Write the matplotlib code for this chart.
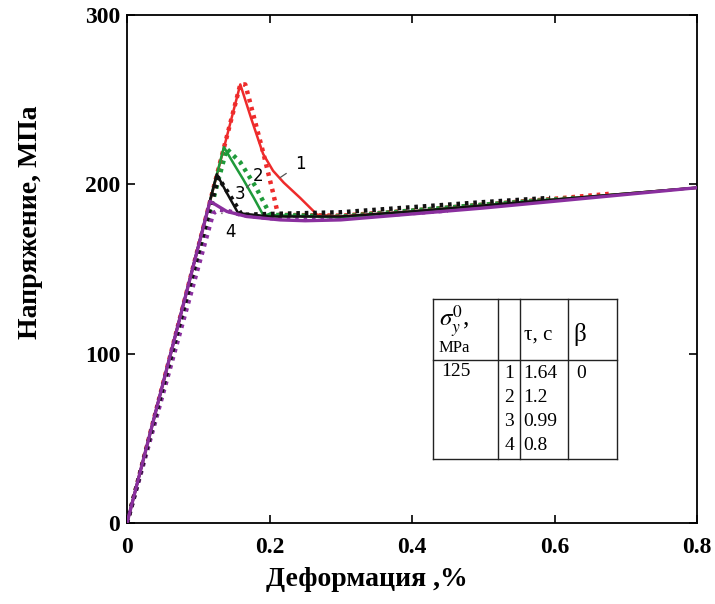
import numpy as np
import matplotlib.pyplot as plt
from matplotlib.lines import Line2D

plt.rcParams['font.family'] = ['Liberation Serif', 'DejaVu Serif']
plt.rcParams['mathtext.fontset'] = 'stix'

# strain (%) and stress (MPa)
red_x = [0, 0.159, 0.175, 0.191, 0.205, 0.22, 0.243, 0.267, 0.3, 0.4, 0.5, 0.6, 0.7, 0.8]
red_y = [0, 259, 238, 218, 208, 201, 192, 182, 181, 184, 187.5, 191, 194.5, 198]
red_dot_x = [0, 0.159, 0.166, 0.173, 0.191, 0.205, 0.212, 0.3, 0.4, 0.5, 0.6, 0.68]
red_dot_y = [0, 259, 259, 248, 219, 195, 182, 181.5, 184.5, 188, 191.5, 194.5]

green_x = [0, 0.136, 0.15, 0.163, 0.178, 0.191, 0.3, 0.4, 0.5, 0.6, 0.7, 0.8]
green_y = [0, 222, 212, 203, 192, 182, 180.5, 184, 187.5, 191, 194.5, 198]
green_dot_x = [0, 0.140, 0.159, 0.180, 0.201, 0.3, 0.4, 0.5, 0.63]
green_dot_y = [0, 221, 213, 199, 182, 181, 184.5, 188, 192]

black_x = [0, 0.126, 0.140, 0.156, 0.2, 0.3, 0.4, 0.5, 0.6, 0.7, 0.8]
black_y = [0, 206, 195, 183, 181, 181, 184, 187.5, 191, 194.5, 198]
black_dot_x = [0, 0.128, 0.145, 0.161, 0.2, 0.3, 0.4, 0.5, 0.594]
black_dot_y = [0, 204, 193, 182, 182.5, 183.5, 186.5, 189.5, 192]

purple_x = [0, 0.1165, 0.14, 0.168, 0.215, 0.25, 0.3, 0.4, 0.5, 0.6, 0.7, 0.8]
purple_y = [0, 190, 184, 181, 179, 178.5, 179, 182.5, 186, 190, 194, 198]
purple_dot_x = [0, 0.121, 0.13, 0.14, 0.16, 0.2, 0.25, 0.3, 0.45]
purple_dot_y = [0, 183, 185, 184.5, 182, 180, 179.5, 180, 184.5]

curve_labels = ['1', '2', '3', '4']
label_xy = [(0.243, 212), (0.184, 205), (0.159, 194), (0.145, 172)]
arrow_xy = [(0.215, 204), (0.168, 198), (0.152, 187), (0.133, 183)]

tau_values = ['1.64', '1.2', '0.99', '0.8']
sigma0 = '125'
beta = '0'

RED = '#ee2b2b'
GREEN = '#1f9a3a'
BLACK = '#111111'
PURPLE = '#8a2f9e'

W, H = 715, 604
fig = plt.figure(figsize=(W / 100, H / 100), dpi=100)
ax = fig.add_axes([127 / W, 1 - 523 / H, 570 / W, 508 / H])


def fx(px, py):
    return (px / W, 1 - py / H)


dot = (0, (0.8, 1.1))
ax.plot(red_dot_x, red_dot_y, color=RED, lw=3.2, linestyle=dot, zorder=2)
ax.plot(red_x, red_y, color=RED, lw=1.8, zorder=3)
ax.plot(green_dot_x, green_dot_y, color=GREEN, lw=3.2, linestyle=dot, zorder=2)
ax.plot(green_x, green_y, color=GREEN, lw=1.8, zorder=3)
ax.plot(black_dot_x, black_dot_y, color=BLACK, lw=3.2, linestyle=dot, zorder=4)
ax.plot(black_x, black_y, color=BLACK, lw=1.8, zorder=3)
ax.plot(purple_dot_x, purple_dot_y, color=PURPLE, lw=3.2, linestyle=dot, zorder=2)
ax.plot(purple_x, purple_y, color=PURPLE, lw=2.4, zorder=5)

for lab, (tx, ty), (axx, ayy) in zip(curve_labels, label_xy, arrow_xy):
    ax.annotate(lab, xy=(axx, ayy), xytext=(tx, ty), fontsize=12,
                family=['DejaVu Sans'], ha='center', va='center',
                arrowprops=dict(arrowstyle='-', color='#555555', lw=0.9,
                                shrinkA=5, shrinkB=0))

ax.set_xlim(0, 0.8)
ax.set_ylim(0, 300)
ax.set_xticks([0, 0.2, 0.4, 0.6, 0.8])
ax.set_xticklabels(['0', '0.2', '0.4', '0.6', '0.8'])
ax.set_yticks([0, 100, 200, 300])
ax.tick_params(direction='in', length=6, width=1.2, top=True, right=True,
               labelsize=17)
ax.tick_params(axis='x', pad=10)
ax.tick_params(axis='y', pad=5)
for lbl in ax.get_xticklabels() + ax.get_yticklabels():
    lbl.set_fontweight('bold')
for sp in ax.spines.values():
    sp.set_linewidth(1.3)

ax.set_xlabel('Деформация ,%', fontsize=20, fontweight='bold')
ax.set_ylabel('Напряжение, МПа', fontsize=20, fontweight='bold')
ax.xaxis.set_label_coords(0.42, -0.112)
ax.yaxis.set_label_coords(-0.17, 0.593)
ax.xaxis.label.set_va('center')
ax.yaxis.label.set_va('center')

# parameter table
L, R, T, B, MID = 433, 617, 299, 459, 360
cols = [498, 520, 568]
lk = dict(color='#222222', lw=1.0)
for (x0, y0, x1, y1) in [(L, T, R, T), (L, B, R, B), (L, T, L, B), (R, T, R, B), (L, MID, R, MID)]:
    fig.add_artist(Line2D(*zip(fx(x0, y0), fx(x1, y1)), **lk))
for c in cols:
    fig.add_artist(Line2D(*zip(fx(c, T), fx(c, B)), **lk))

fig.text(*fx(439, 321), r'$\sigma_y^0$,', fontsize=18, va='center', ha='left')
fig.text(*fx(439, 348), 'MPa', fontsize=12, va='center', ha='left')
fig.text(*fx(524, 335), 'τ, c', fontsize=15, va='center', ha='left')
fig.text(*fx(573, 335), 'β', fontsize=18, va='center', ha='left')
fig.text(*fx(441, 372), sigma0, fontsize=14, va='center', ha='left')
fig.text(*fx(576, 374), beta, fontsize=14, va='center', ha='left')
for i, (lab, tau) in enumerate(zip(curve_labels, tau_values)):
    yy = 373 + 24 * i
    fig.text(*fx(514, yy), lab, fontsize=14, va='center', ha='right')
    fig.text(*fx(523, yy), tau, fontsize=14, va='center', ha='left')

fig.savefig('out.png', dpi=100)
